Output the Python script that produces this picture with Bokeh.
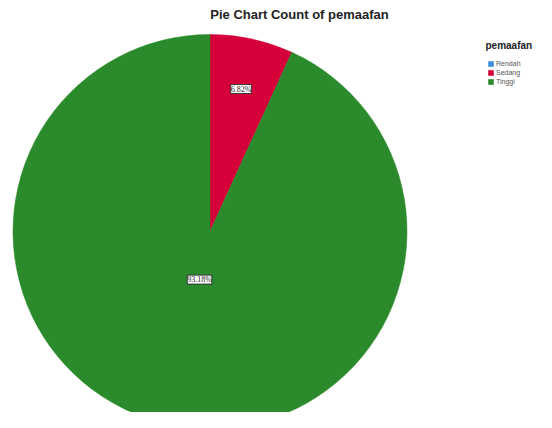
import math
from bokeh.plotting import figure
from bokeh.models import ColumnDataSource, Legend, LegendItem, Label, LabelSet, Range1d
from bokeh.embed import file_html
from bokeh.resources import INLINE

# ---- data ----
categories = ["Rendah", "Sedang", "Tinggi"]
percents = [0.0, 6.82, 93.18]
pct_labels = ["", "6.82%", "93.18%"]
colors = ["#3D8FDC", "#D5003A", "#2B8A2B"]
title_text = "Pie Chart Count of pemaafan"
legend_title = "pemaafan"

W, H = 536, 412
p = figure(width=W, height=H, output_backend="svg", toolbar_location=None,
           x_range=Range1d(0, W), y_range=Range1d(0, H), min_border=0)
p.axis.visible = False
p.grid.visible = False
p.outline_line_color = None
p.background_fill_color = "white"
p.border_fill_color = "white"

cx, cy, R = 209.5, 181.0, 197.0
label_frac = [0.5, 0.74, 0.25]

start = math.pi / 2
lx, ly, lt = [], [], []
for cat, pct, col, lab, fr in zip(categories, percents, colors, pct_labels, label_frac):
    ang = pct / 100.0 * 2 * math.pi
    end = start - ang
    if pct > 0:
        src = ColumnDataSource(dict(x=[cx], y=[cy], s=[end], e=[start]))
        p.wedge(x="x", y="y", radius=R, start_angle="s", end_angle="e",
                fill_color=col, line_color=col, line_width=0.5, source=src)
    if lab:
        mid = (start + end) / 2
        lx.append(cx + fr * R * math.cos(mid))
        ly.append(cy + fr * R * math.sin(mid))
        lt.append(lab)
    start = end

ls = ColumnDataSource(dict(x=lx, y=ly, t=lt))
p.add_layout(LabelSet(x="x", y="y", text="t", source=ls, text_align="center",
                      text_baseline="middle", text_font="Liberation Sans",
                      text_font_size="8px", text_color="#222222",
                      background_fill_color="white", border_line_color="#333333",
                      border_line_width=1))

p.add_layout(Label(x=299, y=H - 14, x_units="screen", y_units="screen", text=title_text,
                   text_align="center", text_baseline="middle", text_font="Liberation Sans",
                   text_font_style="bold", text_font_size="13px", text_color="#222222"))

p.add_layout(Label(x=485, y=H - 45, x_units="screen", y_units="screen", text=legend_title,
                   text_align="left", text_baseline="middle", text_font="Liberation Sans",
                   text_font_style="bold", text_font_size="10px", text_color="#222222"))

# legend swatches (not placed in the plot area)
items = []
for cat, col in zip(categories, colors):
    src = ColumnDataSource(dict(x=[float("nan")], y=[float("nan")]))
    r = p.rect(x="x", y="y", width=1, height=1, fill_color=col, line_color=None, source=src)
    items.append(LegendItem(label=cat, renderers=[r]))
leg = Legend(items=items, location=(487, H - 85),
             label_text_font="Liberation Sans",
             label_text_font_size="7px", label_text_color="#555555",
             glyph_width=7, glyph_height=7, label_height=7, spacing=2,
             padding=0, margin=0, border_line_color=None,
             background_fill_alpha=0, label_standoff=2)
p.add_layout(leg, "center")

open("out.html", "w").write(file_html(p, INLINE))
